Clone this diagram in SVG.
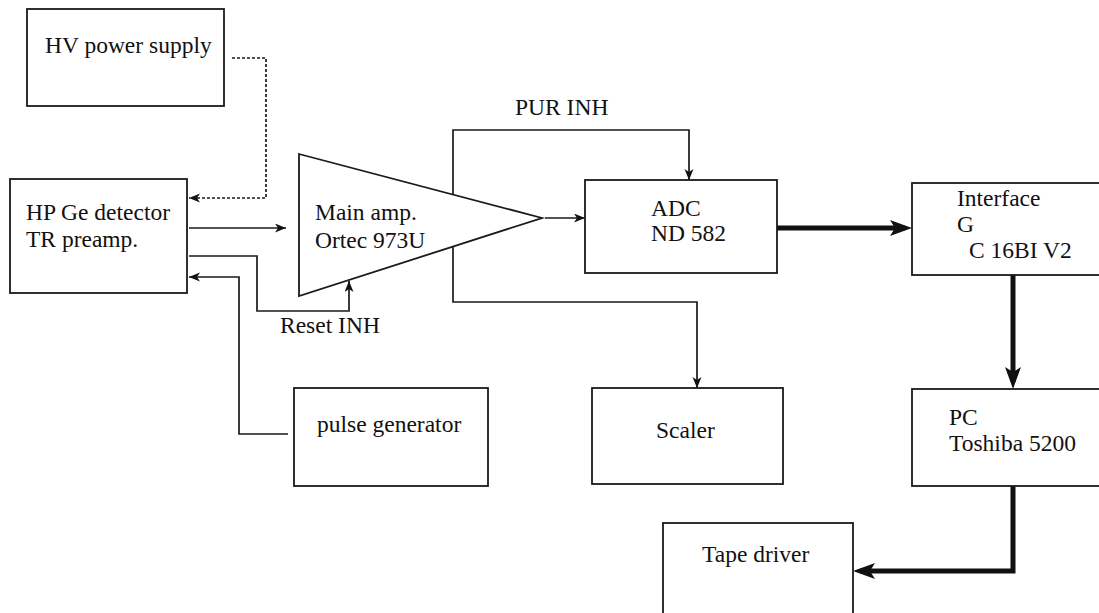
<svg xmlns="http://www.w3.org/2000/svg" width="1099" height="613" viewBox="0 0 1099 613">
  <style>
    .box { fill: #ffffff; stroke: #1a1a1a; stroke-width: 1.8; }
    .lbl { font-family: "Liberation Serif", "Times New Roman", serif; font-size: 23.5px; fill: #111111; }
    .wire { fill: none; stroke: #1a1a1a; stroke-width: 1.7; }
    .dash { fill: none; stroke: #1a1a1a; stroke-width: 1.7; stroke-dasharray: 3 2; }
    .bus { fill: none; stroke: #111111; stroke-width: 5; }
  </style>
  <defs>
    <marker id="arr" markerUnits="userSpaceOnUse" markerWidth="13" markerHeight="11" refX="11" refY="4.5" orient="auto">
      <path d="M0,0 L11,4.5 L0,9 L3,4.5 z" fill="#111111"/>
    </marker>
    <marker id="arrBig" markerUnits="userSpaceOnUse" markerWidth="24" markerHeight="18" refX="15" refY="8" orient="auto">
      <path d="M0,0 L22,8 L0,16 L5,8 z" fill="#111111"/>
    </marker>
  </defs>
  <rect width="1099" height="613" fill="#ffffff"/>

  <!-- signal and data paths -->
  <g id="connectors">
    <path class="dash" d="M232,58 H266 V198 H189" marker-end="url(#arr)"/>
    <path class="wire" d="M189,228 H286" marker-end="url(#arr)"/>
    <path class="wire" d="M189,256 H257 V311 H349 V281" marker-end="url(#arr)"/>
    <path class="wire" d="M288,434 H239 V277 H189" marker-end="url(#arr)"/>
    <path class="wire" d="M545,218 H585" marker-end="url(#arr)"/>
    <path class="wire" d="M453,195 V130 H689 V180" marker-end="url(#arr)"/>
    <path class="wire" d="M453,247 V302 H697 V388" marker-end="url(#arr)"/>
    <path class="bus" d="M777,228 H905" marker-end="url(#arrBig)"/>
    <path class="bus" d="M1013,275 V382" marker-end="url(#arrBig)"/>
    <path class="bus" d="M1013,486 V571 H860" marker-end="url(#arrBig)"/>
  </g>

  <g id="hv-supply">
    <rect class="box" x="27" y="9" width="197" height="97"/>
    <text class="lbl" x="45" y="53">HV power supply</text>
  </g>

  <g id="detector">
    <rect class="box" x="10" y="179" width="177" height="114"/>
    <text class="lbl" x="26" y="220">HP Ge detector</text>
    <text class="lbl" x="26" y="247">TR preamp.</text>
  </g>

  <g id="main-amp">
    <polygon class="box" points="299,154 542,218 299,296"/>
    <text class="lbl" x="315" y="220">Main amp.</text>
    <text class="lbl" x="315" y="248">Ortec 973U</text>
  </g>

  <g id="adc">
    <rect class="box" x="585" y="180" width="192" height="93"/>
    <text class="lbl" x="651" y="216">ADC</text>
    <text class="lbl" x="651" y="241">ND 582</text>
  </g>

  <g id="interface">
    <rect class="box" x="912" y="183" width="200" height="92"/>
    <text class="lbl" x="957" y="206">Interface</text>
    <text class="lbl" x="957" y="232">G</text>
    <text class="lbl" x="969" y="258">C 16BI V2</text>
  </g>

  <g id="pc">
    <rect class="box" x="912" y="389" width="200" height="97"/>
    <text class="lbl" x="949" y="425">PC</text>
    <text class="lbl" x="949" y="451">Toshiba 5200</text>
  </g>

  <g id="pulse-generator">
    <rect class="box" x="294" y="388" width="194" height="98"/>
    <text class="lbl" x="317" y="432">pulse generator</text>
  </g>

  <g id="scaler">
    <rect class="box" x="592" y="388" width="191" height="96"/>
    <text class="lbl" x="656" y="438">Scaler</text>
  </g>

  <g id="tape-driver">
    <rect class="box" x="663" y="523" width="190" height="100"/>
    <text class="lbl" x="702" y="562">Tape driver</text>
  </g>

  <!-- signal labels -->
  <g id="labels">
    <text class="lbl" x="515" y="115">PUR INH</text>
    <text class="lbl" x="280" y="333">Reset INH</text>
  </g>
</svg>
